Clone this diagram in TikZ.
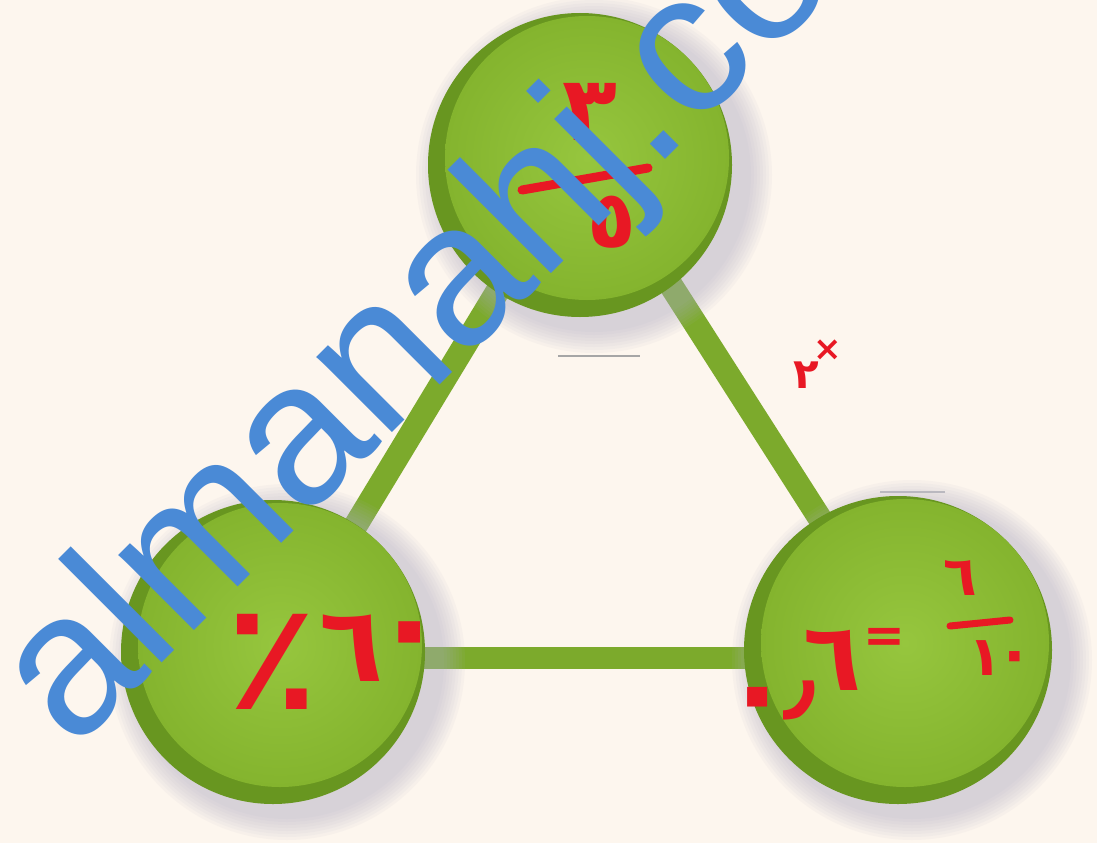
\documentclass[tikz,border=0pt]{standalone}
\usepackage{fontspec}
\newfontfamily\wmfont{Liberation Sans}
\newfontfamily\arabfont[Script=Arabic]{DejaVu Sans}
\definecolor{bgc}{RGB}{253,246,238}
\definecolor{barc}{RGB}{124,170,44}
\definecolor{rimc}{RGB}{104,150,32}
\definecolor{facec}{RGB}{132,180,46}
\definecolor{facelight}{RGB}{150,198,62}
\definecolor{shadowc}{RGB}{175,172,195}
\definecolor{inkc}{RGB}{232,24,36}
\definecolor{wmc}{RGB}{74,138,214}
\newcommand{\greenbtn}[3]{%
  \foreach \k in {1,...,8}{\fill[shadowc,opacity=0.07] (#1+14,#2+10) circle ({#3+2+3*\k});}
  \fill[rimc] (#1,#2) circle (#3);
  \shade[inner color=facelight, outer color=facec] (#1+7,#2-7) circle (#3-10);
}
\tikzset{
  bar/.style={barc, line width=24pt},
  ink/.style={text=inkc, inner sep=0, font={\arabfont\bfseries\fontsize{#1}{#1}\selectfont}},
  inkline/.style={inkc, line width=9pt, line cap=round},
  wm/.style={text=wmc, inner sep=0, font={\wmfont\fontsize{202}{202}\selectfont}},
  speck/.style={black!35, line width=2pt}
}
\begin{document}
\begin{tikzpicture}[x=1pt,y=-1pt]
\useasboundingbox (0,0) rectangle (1097,843);
\fill[bgc] (0,0) rectangle (1097,843);
\clip (0,0) rectangle (1097,843);
% faint artifacts
\draw[speck] (558,356) -- (640,356);
\draw[speck, black!25] (880,492) -- (945,492);
% node positions
\coordinate (top) at (580,165);
\coordinate (bl) at (273,652);
\coordinate (br) at (898,650);
% connectors
\draw[bar] ([xshift=-6pt]top) -- ([xshift=6pt]bl);
\draw[bar] ([xshift=14pt]top) -- ([xshift=6pt]br);
\draw[bar, line width=22pt] ([yshift=-6pt]bl) -- ([yshift=-8pt]br);
% buttons
\greenbtn{580}{165}{152}
\greenbtn{273}{652}{152}
\greenbtn{898}{650}{154}
% handwriting: top (3/5)
\node[ink=90] (t3) at (590,112) {٣};
\draw[inkline] (522,190) -- (648,168);
\node[ink=80] (t5) at (612,222) {٥};
% bottom left (60%)
\node[ink=150] (blp) at (272,662) {٪};
\node[ink=105] (bl6) at (352,648) {٦};
\node[ink=125] (bl0) at (410,645) {٠};
% bottom right (0.6 = 6/10)
\node[ink=115] (br0) at (758,708) {٠};
\node[ink=90] (brc) at (800,700) {٫};
\node[ink=95] (br6) at (832,660) {٦};
\node[ink=50] (breq) at (884,640) {=};
\node[ink=55] (brn) at (960,578) {٦};
\draw[inkline, line width=7pt] (950,626) -- (1010,620);
\node[ink=55] (brd1) at (985,658) {١};
\node[ink=60] (brd0) at (1015,663) {٠};
% side label (x2)
\node[ink=42] (side2) at (806,375) {٢};
\node[ink=34] (sidex) at (828,350) {×};
% watermark
\node[wm, rotate=45, anchor=base west] (wmark) at (73,752) {almanahj.com};
\end{tikzpicture}
\end{document}
